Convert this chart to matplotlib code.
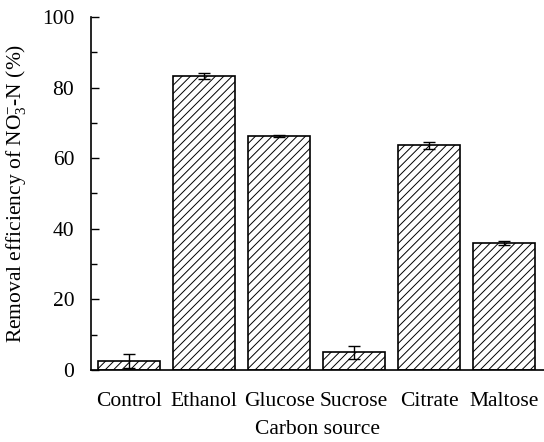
import numpy as np
import matplotlib
matplotlib.use('Agg')
import matplotlib.pyplot as plt

sources = ['Control', 'Ethanol', 'Glucose', 'Sucrose', 'Citrate', 'Maltose']
removal = [2.5, 83.2, 66.3, 5.0, 63.6, 36.0]
removal_err = [2.0, 0.8, 0.4, 1.8, 1.0, 0.5]

plt.rcParams['font.family'] = ['Liberation Serif', 'DejaVu Serif']
plt.rcParams['mathtext.fontset'] = 'custom'
plt.rcParams['mathtext.rm'] = 'Liberation Serif'
plt.rcParams['mathtext.it'] = 'Liberation Serif:italic'
plt.rcParams['hatch.linewidth'] = 0.7

fig = plt.figure(figsize=(5.44, 4.42), dpi=100)
ax = fig.add_axes([0.167, 0.163, 0.833, 0.7985])

x = np.arange(len(sources))
ax.bar(x, removal, width=0.82, color='white', edgecolor='black', linewidth=1.2,
       hatch='////', yerr=removal_err, capsize=4,
       error_kw=dict(ecolor='black', elinewidth=1.0, capthick=1.0))

ax.set_xlim(-0.507, 5.53)
ax.set_ylim(0, 100)
ax.set_xticks(x)
ax.set_xticklabels(sources)
ax.set_yticks([0, 20, 40, 60, 80, 100])
ax.set_yticks(np.arange(10, 100, 20), minor=True)
ax.tick_params(axis='y', which='both', direction='in', labelsize=15.5, width=1.0, pad=12)
ax.tick_params(axis='y', which='major', length=6)
ax.tick_params(axis='y', which='minor', length=4)
ax.tick_params(axis='x', length=0, labelsize=15.5, pad=16)

for s in ['top', 'right']:
    ax.spines[s].set_visible(False)
for s in ['left', 'bottom']:
    ax.spines[s].set_linewidth(1.2)

ax.set_xlabel('Carbon source', fontsize=15.5, labelpad=6)
ax.set_ylabel(r'Removal efficiency of NO$_3^{-}$-N (%)', fontsize=15.5, labelpad=10)

fig.savefig('out.png', dpi=100)
